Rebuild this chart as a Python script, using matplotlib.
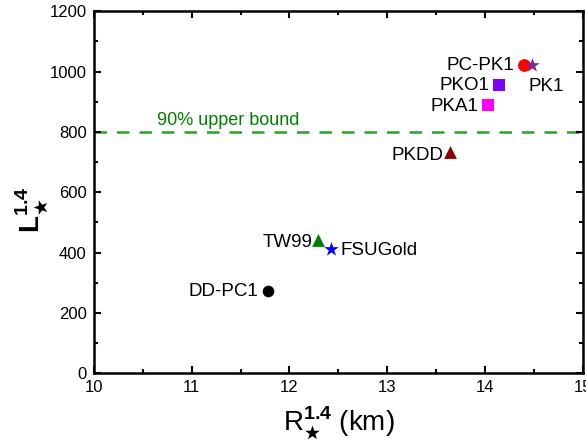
import matplotlib.pyplot as plt
from matplotlib.ticker import MultipleLocator

plt.rcParams['font.family'] = ['Liberation Sans', 'DejaVu Sans']
plt.rcParams['mathtext.fontset'] = 'custom'
plt.rcParams['mathtext.rm'] = 'Liberation Sans'
plt.rcParams['mathtext.bf'] = 'Liberation Sans:bold'

# model name, radius R_1.4 (km), tidal deformability L_1.4
names = ['PC-PK1', 'PK1', 'PKO1', 'PKA1', 'PKDD', 'TW99', 'FSUGold', 'DD-PC1']
radius = [14.40, 14.48, 14.14, 14.03, 13.64, 12.29, 12.42, 11.78]
lam = [1021, 1020, 955, 888, 732, 442, 411, 272]
colors = ['red', '#7b2a8f', '#8000ff', '#ff00ff', '#8b0000', 'green', 'blue', 'black']
markers = ['o', '*', 's', 's', '^', '^', '*', 'o']
sizes = [85, 120, 65, 65, 85, 85, 120, 70]
# label offsets in points
offsets = [(-7, 0), (-3, -15), (-7, 0), (-7, -1), (-5, -2), (-4, -2), (7, -1), (-7, 0)]
aligns = ['right', 'left', 'right', 'right', 'right', 'right', 'left', 'right']

upper_bound = 800

fig = plt.figure(figsize=(5.86, 4.48), dpi=100)
ax = fig.add_axes([0.160, 0.167, 0.835, 0.808])

ax.axhline(upper_bound, color='#2ca02c', ls=(0, (5, 4)), lw=1.8, zorder=1)
ax.text(10.65, 810, '90% upper bound', color='green', fontsize=13, va='bottom')

for n, r, l, c, m, s, off, ha in zip(names, radius, lam, colors, markers, sizes, offsets, aligns):
    ax.scatter(r, l, color=c, marker=m, s=s, zorder=3, linewidths=0)
    ax.annotate(n, (r, l), xytext=off, textcoords='offset points',
                ha=ha, va='center', fontsize=13.5)

ax.set_xlim(10, 15)
ax.set_ylim(0, 1200)
ax.xaxis.set_major_locator(MultipleLocator(1))
ax.xaxis.set_minor_locator(MultipleLocator(0.5))
ax.yaxis.set_major_locator(MultipleLocator(200))
ax.yaxis.set_minor_locator(MultipleLocator(100))
ax.tick_params(which='both', direction='in', top=True, right=True, labelsize=12, width=1.5, pad=5)
ax.tick_params(which='major', length=5)
ax.tick_params(which='minor', length=3)
for sp in ax.spines.values():
    sp.set_linewidth(1.8)

ax.set_xlabel(r'R$_{\bigstar}^{\mathbf{1.4}}$ (km)', fontsize=20, labelpad=7)
ax.set_ylabel(r'$\mathbf{L}_{\bigstar}^{\mathbf{1.4}}$', fontsize=20, labelpad=-1, y=0.45)

fig.savefig('out.png', dpi=100)
